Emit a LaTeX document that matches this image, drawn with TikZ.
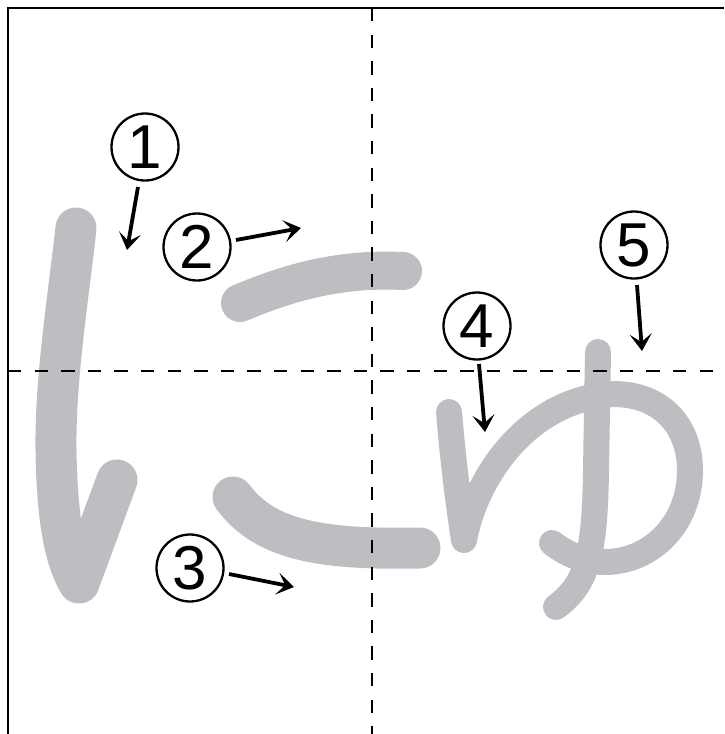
\documentclass[tikz,border=0pt]{standalone}
\usepackage{fontspec}
\setmainfont{Liberation Sans}
\usetikzlibrary{arrows.meta}
\definecolor{strokegray}{RGB}{189,190,194}
\begin{document}
\begin{tikzpicture}[x=1pt,y=-1pt,
  brush/.style={draw=strokegray,line cap=round,line join=round},
  guide/.style={line width=2.2pt,dash pattern=on 13.3pt off 13.3pt},
  frame/.style={line width=2.6pt},
  num/.style={circle,draw,line width=2.3pt,minimum size=67pt,inner sep=0pt,font=\fontsize{62}{62}\selectfont},
  arr/.style={line width=3.8pt,-{Stealth[length=17pt,width=22pt,inset=8pt]}}]
\useasboundingbox (0,0) rectangle (724,734);
% gray strokes
\draw[brush,line width=41pt] (76,228) .. controls (68,300) and (55,380) .. (56,450) .. controls (57,520) and (65,560) .. (79,583) -- (117,480);
\draw[brush,line width=38pt] (240,303) .. controls (290,282) and (340,268) .. (403,271);
\draw[brush,line width=41pt] (233,497) .. controls (265,540) and (320,550) .. (420,548);
\draw[brush,line width=26pt] (449,412) .. controls (453,460) and (458,500) .. (464,540) .. controls (475,480) and (525,400) .. (613,394) .. controls (665,394) and (690,430) .. (690,470) .. controls (690,525) and (650,562) .. (605,562) .. controls (585,562) and (568,555) .. (552,543);
\draw[brush,line width=26pt] (598,352) -- (596,470) .. controls (595,560) and (585,585) .. (556,607);
% guide lines
\coordinate (vt) at (372,8);
\coordinate (vb) at (372,734);
\coordinate (hl) at (8,371);
\coordinate (hr) at (724,371);
\draw[guide] (vt) -- (vb);
\draw[guide] (hl) -- (hr);
% frame
\coordinate (fc) at (8,8);
\coordinate (ftr) at (724,8);
\coordinate (fbl) at (8,734);
\draw[frame] (fbl) -- (fc) -- (ftr);
% numbers
\node[num] (n1) at (145,147) {1};
\node[num] (n2) at (197,247) {2};
\node[num] (n3) at (190,568) {3};
\node[num] (n4) at (477,326) {4};
\node[num] (n5) at (634,245) {5};
% arrows
\coordinate (a1s) at (138,187); \coordinate (a1e) at (127,250);
\coordinate (a2s) at (236,240); \coordinate (a2e) at (301,228);
\coordinate (a3s) at (229,574); \coordinate (a3e) at (294,587);
\coordinate (a4s) at (479,364); \coordinate (a4e) at (485,432);
\coordinate (a5s) at (637,285); \coordinate (a5e) at (642,351);
\draw[arr] (a1s) -- (a1e);
\draw[arr] (a2s) -- (a2e);
\draw[arr] (a3s) -- (a3e);
\draw[arr] (a4s) -- (a4e);
\draw[arr] (a5s) -- (a5e);
\end{tikzpicture}
\end{document}
